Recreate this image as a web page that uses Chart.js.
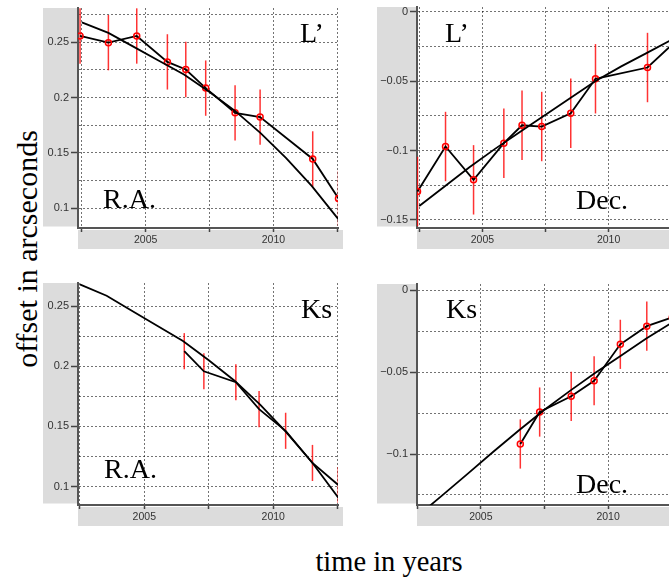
<!DOCTYPE html>
<html>
<head>
<meta charset="utf-8">
<script src="https://cdn.jsdelivr.net/npm/chart.js@4.4.0/dist/chart.umd.min.js"></script>
<style>
  body { margin: 0; background: #fff; }
  #page { position: relative; width: 669px; height: 588px; overflow: hidden; background: #fff; }
  canvas { position: absolute; }
  .lbl { position: absolute; font-family: "Liberation Serif", "Times New Roman", serif; font-size: 28px; line-height: 28px; color: #000; white-space: nowrap; }
  .axt { position: absolute; font-family: "Liberation Serif", "Times New Roman", serif; color: #000; white-space: nowrap; }
</style>
</head>
<body>
<div id="page">
  <canvas id="lpRA" width="305" height="252" style="left:43px;top:0px"></canvas>
  <canvas id="lpDec" width="296" height="252" style="left:377px;top:0px"></canvas>
  <canvas id="ksRA" width="305" height="260" style="left:43px;top:270px"></canvas>
  <canvas id="ksDec" width="296" height="260" style="left:377px;top:270px"></canvas>

  <div class="lbl" style="left:300px;top:19px">L’</div>
  <div class="lbl" style="left:103px;top:185px">R.A.</div>
  <div class="lbl" style="left:445px;top:19px">L’</div>
  <div class="lbl" style="left:576px;top:186px">Dec.</div>
  <div class="lbl" style="left:301px;top:295px">Ks</div>
  <div class="lbl" style="left:104px;top:455px">R.A.</div>
  <div class="lbl" style="left:446px;top:295px">Ks</div>
  <div class="lbl" style="left:576px;top:470px">Dec.</div>

  <div class="axt" style="left:27px;top:249px;font-size:30px;line-height:30px;transform:translate(-50%,-50%) rotate(-90deg)">offset in arcseconds</div>
  <div class="axt" style="left:389px;top:548px;font-size:28.5px;line-height:28.5px;transform:translateX(-50%)">time in years</div>
</div>
<script>
// L' epochs and offsets (arcsec)
const lpYears = [2002.43, 2003.54, 2004.65, 2005.85, 2006.57, 2007.35, 2008.50, 2009.48, 2011.54, 2012.55];
const lpRA    = [0.2557, 0.2497, 0.2557, 0.2323, 0.2254, 0.2086, 0.1863, 0.1824, 0.1446, 0.1089];
const lpDec   = [-0.1295, -0.0971, -0.1211, -0.0947, -0.0818, -0.0827, -0.0731, -0.0483, -0.0402, -0.0230];
const lpErr   = [0.025, 0.025, 0.025, 0.025, 0.025, 0.025, 0.025, 0.025, 0.025, 0.025];

// Ks epochs and offsets
const ksYears = [2006.55, 2007.31, 2008.55, 2009.45, 2010.48, 2011.52, 2012.52];
const ksRA    = [0.2125, 0.1958, 0.1867, 0.1644, 0.1464, 0.1197, 0.1014];
const ksDec   = [-0.0939, -0.0744, -0.0648, -0.0553, -0.0331, -0.0220, -0.0167];
const ksErr   = [0.015, 0.015, 0.015, 0.015, 0.015, 0.015, 0.015];

// orbit model
const modelYears = [2002.5, 2003.54, 2004.5, 2005.5, 2006.5, 2007.5, 2008.5, 2009.5, 2010.5, 2011.5, 2012.55];
const modelRA    = [0.268, 0.2585, 0.2463, 0.2336, 0.2210, 0.2050, 0.1880, 0.1680, 0.1453, 0.1203, 0.0900];
const modelDecL  = [-0.140, -0.1254, -0.1118, -0.0988, -0.0864, -0.0742, -0.0620, -0.0497, -0.0394, -0.0298, -0.0196];
const modelDecK  = [-0.138, -0.1245, -0.1118, -0.0985, -0.0855, -0.0730, -0.0615, -0.0505, -0.0400, -0.0295, -0.0195];

// tick labels
const yearLabels = [2005, 2010];
const raLabels = [0.1, 0.15, 0.2, 0.25];
const decLabels = [-0.15, -0.1, -0.05, 0];

const pts = (xs, ys) => xs.map((x, i) => ({x: x, y: ys[i]}));
const has = (list, v) => list.some(l => Math.abs(l - v) < 1e-6);
const fmt = v => {
  const s = String(Number(v.toFixed(3)));
  return s.replace('-', '\u2212');
};

const bands = {
  id: 'bands',
  beforeDraw(chart) {
    const {ctx, chartArea: a} = chart;
    ctx.save();
    ctx.fillStyle = '#dcdcdc';
    ctx.fillRect(0, a.top, a.left, a.bottom - a.top - 1.5);
    ctx.fillRect(a.left, a.bottom + 2, a.right - a.left + 5, 19);
    ctx.restore();
  }
};

const errBars = {
  id: 'errBars',
  beforeDatasetsDraw(chart) {
    const {ctx, chartArea: a, scales} = chart;
    ctx.save();
    ctx.beginPath();
    ctx.rect(a.left, a.top, a.right - a.left, a.bottom - a.top);
    ctx.clip();
    ctx.strokeStyle = 'rgba(255,0,0,0.8)';
    ctx.lineWidth = 1.5;
    chart.data.datasets.forEach(ds => {
      if (!ds.err) return;
      ds.data.forEach((p, i) => {
        const px = scales.x.getPixelForValue(p.x);
        ctx.beginPath();
        ctx.moveTo(px, scales.y.getPixelForValue(p.y - ds.err[i]));
        ctx.lineTo(px, scales.y.getPixelForValue(p.y + ds.err[i]));
        ctx.stroke();
      });
    });
    ctx.restore();
  }
};

const gridCol = 'rgba(0,0,0,0.55)';

function panel(id, p) {
  new Chart(document.getElementById(id), {
    type: 'line',
    data: {
      datasets: [
        {
          data: pts(modelYears, p.model),
          borderColor: '#000', borderWidth: 1.8, pointRadius: 0, tension: 0
        },
        {
          data: pts(p.years, p.vals),
          err: p.err,
          borderColor: '#000', borderWidth: 1.8, tension: 0,
          pointRadius: p.markers ? 3 : 0,
          pointBorderColor: '#ff0000', pointBackgroundColor: 'rgba(0,0,0,0)', pointBorderWidth: 1.5
        }
      ]
    },
    options: {
      responsive: false,
      animation: false,
      devicePixelRatio: 1,
      layout: { padding: p.pad, autoPadding: false },
      plugins: { legend: { display: false }, tooltip: { enabled: false } },
      scales: {
        x: {
          type: 'linear', min: p.xMin, max: p.xMax,
          afterFit: s => { s.height = 20; s.paddingLeft = 0; s.paddingRight = 0; },
          ticks: {
            stepSize: 2.5, includeBounds: false, autoSkip: false, minRotation: 0, maxRotation: 0,
            padding: 2, color: '#333', font: { family: 'Liberation Sans', size: 10.5 },
            callback: v => has(yearLabels, v) ? String(v) : ''
          },
          grid: { color: gridCol, lineWidth: 1, tickColor: '#444', tickLength: 4, tickWidth: 1.5 },
          border: { color: '#555', width: 2, dash: [2, 2] }
        },
        y: {
          type: 'linear', min: p.yMin, max: p.yMax,
          afterFit: s => { s.width = p.yW; s.paddingTop = 0; s.paddingBottom = 0; },
          ticks: {
            stepSize: 0.025, includeBounds: false, autoSkip: false,
            padding: 2, color: '#333', font: { family: 'Liberation Sans', size: 11 },
            callback: v => has(p.labels, v) ? fmt(v) : ''
          },
          grid: {
            color: gridCol, lineWidth: 1, tickLength: 7, tickWidth: 1.5,
            tickColor: c => (c.tick && has(p.labels, c.tick.value)) ? '#444' : 'rgba(0,0,0,0)'
          },
          border: { color: '#555', width: 2, dash: [2, 2] }
        }
      }
    },
    plugins: [bands, errBars]
  });
}

panel('lpRA', {
  model: modelRA, years: lpYears, vals: lpRA, err: lpErr, markers: true, labels: raLabels,
  xMin: 2002.35, xMax: 2012.53, yMin: 0.0822, yMax: 0.2810, yW: 35,
  pad: { left: 0, top: 8, right: 10, bottom: 4 }
});
panel('lpDec', {
  model: modelDecL, years: lpYears, vals: lpDec, err: lpErr, markers: true, labels: decLabels,
  xMin: 2002.41, xMax: 2012.55, yMin: -0.1558, yMax: 0.0034, yW: 40,
  pad: { left: 0, top: 7, right: 0, bottom: 4 }
});
panel('ksRA', {
  model: modelRA, years: ksYears, vals: ksRA, err: ksErr, markers: false, labels: raLabels,
  xMin: 2002.43, xMax: 2012.51, yMin: 0.0848, yMax: 0.2691, yW: 35,
  pad: { left: 0, top: 13, right: 10, bottom: 5 }
});
panel('ksDec', {
  model: modelDecK, years: ksYears, vals: ksDec, err: ksErr, markers: true, labels: decLabels,
  xMin: 2002.49, xMax: 2012.55, yMin: -0.1311, yMax: 0.0037, yW: 40,
  pad: { left: 0, top: 14, right: 0, bottom: 5 }
});
</script>
</body>
</html>
